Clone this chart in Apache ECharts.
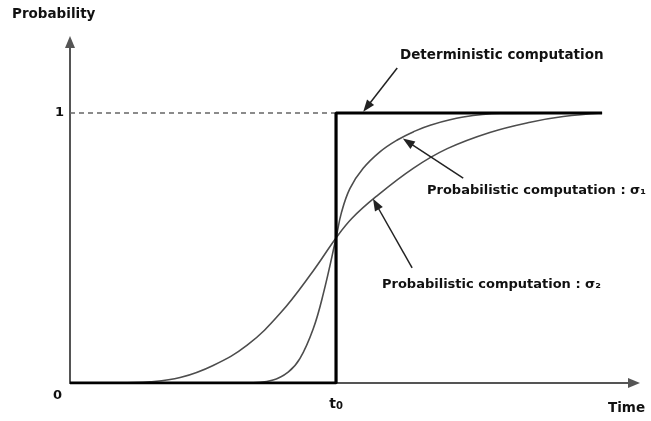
<!DOCTYPE html>
<html>
<head>
<meta charset="utf-8">
<script src="https://cdn.jsdelivr.net/npm/echarts@6/dist/echarts.min.js"></script>
<style>
  html, body { margin: 0; padding: 0; background: #fff; }
  #chart { width: 651px; height: 421px; }
</style>
</head>
<body>
<div id="chart"></div>
<script>
// Time is measured so that the switching instant t0 sits at 5.
const T0 = 5;
const T_END = 10;

// Ideal (deterministic) step: 0 until t0, then 1.
const deterministic = [[0, 0], [T0, 0], [T0, 1], [T_END, 1]];

// Reference level for probability 1 before t0.
const levelOne = [[0, 1], [T0, 1]];

// Narrow spread (sigma 1): steep S-curve around t0.
const sigma1 = [
  [3.3, 0], [3.8, 0.01], [4.1, 0.04], [4.32, 0.09], [4.57, 0.2],
  [4.76, 0.33], [5.0, 0.537], [5.1, 0.63], [5.26, 0.72], [5.51, 0.795],
  [5.83, 0.857], [6.15, 0.9], [6.45, 0.93], [6.77, 0.955], [7.39, 0.985],
  [8.1, 0.998], [T_END, 1.0]
];

// Wide spread (sigma 2): gentle S-curve around t0.
const sigma2 = [
  [0.9, 0], [1.5, 0.004], [2.07, 0.02], [2.69, 0.065], [3.33, 0.14],
  [3.95, 0.258], [4.57, 0.415], [5.0, 0.537], [5.3, 0.61], [5.75, 0.69],
  [6.45, 0.795], [7.09, 0.868], [7.89, 0.928], [8.65, 0.966],
  [9.27, 0.987], [T_END, 1.0]
];

// Callout arrows: [tail, tip] in data units.
const arrowDeterministic = [[6.15, 1.167], [5.58, 1.022]];
const arrowSigma1 = [[7.39, 0.759], [6.35, 0.893]];
const arrowSigma2 = [[6.43, 0.426], [5.75, 0.663]];

const FONT = 'DejaVu Sans';
const LABEL_FONT = 'bold 13.5px "DejaVu Sans"';
const SIGMA_FONT = 'bold 13px "DejaVu Sans"';
const INK = '#111';
const CURVE = '#4d4d4d';

function arrowLine(pair) {
  return [
    { coord: pair[0], symbol: 'none' },
    { coord: pair[1], symbol: 'triangle', symbolSize: [9, 12] }
  ];
}

const chart = echarts.init(document.getElementById('chart'), null, { renderer: 'canvas' });

chart.setOption({
  animation: false,
  backgroundColor: '#fff',
  grid: { left: 70, right: 17, top: 42, bottom: 38, containLabel: false },
  xAxis: {
    type: 'value',
    min: 0,
    max: 10.6,
    interval: T0,
    splitLine: { show: false },
    axisTick: { show: false },
    axisLine: {
      onZero: false,
      symbol: ['none', 'triangle'],
      symbolSize: [10, 12],
      lineStyle: { color: '#555', width: 2 }
    },
    axisLabel: {
      margin: 12,
      color: INK,
      formatter: v => (v === T0 ? '{t|t}{s|0}' : ''),
      rich: {
        t: { fontFamily: FONT, fontWeight: 'bold', fontSize: 14, color: INK, verticalAlign: 'bottom', lineHeight: 16 },
        s: { fontFamily: FONT, fontWeight: 'bold', fontSize: 10, color: INK, verticalAlign: 'bottom', lineHeight: 14 }
      }
    }
  },
  yAxis: {
    type: 'value',
    min: 0,
    max: 1.263,
    interval: 1,
    splitLine: { show: false },
    axisTick: { show: false },
    axisLine: {
      onZero: false,
      symbol: ['none', 'triangle'],
      symbolSize: [10, 12],
      lineStyle: { color: '#555', width: 2 }
    },
    axisLabel: {
      margin: 6,
      showMaxLabel: false,
      fontFamily: FONT,
      fontWeight: 'bold',
      fontSize: 13,
      color: INK,
      formatter: v => (v === 1 ? '1' : v === 0 ? '{z|0}' : ''),
      rich: {
        z: { fontFamily: FONT, fontWeight: 'bold', fontSize: 13, color: INK, padding: [25, 2, 0, 0] }
      }
    }
  },
  series: [
    {
      type: 'line',
      data: levelOne,
      symbol: 'none',
      lineStyle: { color: '#666', width: 1.5, type: [5, 4] },
      z: 1
    },
    {
      type: 'line',
      data: sigma2,
      smooth: 0.4,
      symbol: 'none',
      lineStyle: { color: CURVE, width: 1.6 },
      z: 2
    },
    {
      type: 'line',
      data: sigma1,
      smooth: 0.4,
      symbol: 'none',
      lineStyle: { color: CURVE, width: 1.6 },
      z: 2,
      markLine: {
        silent: true,
        label: { show: false },
        lineStyle: { color: '#222', width: 1.5, type: 'solid' },
        data: [arrowLine(arrowDeterministic), arrowLine(arrowSigma1), arrowLine(arrowSigma2)]
      }
    },
    {
      type: 'line',
      data: deterministic,
      symbol: 'none',
      lineStyle: { color: '#000', width: 3.2 },
      z: 3
    }
  ],
  graphic: [
    { type: 'text', left: 12, top: 7, style: { text: 'Probability', font: LABEL_FONT, fill: INK } },
    { type: 'text', left: 400, top: 48, style: { text: 'Deterministic computation', font: LABEL_FONT, fill: INK } },
    { type: 'text', left: 427, top: 184, style: { text: 'Probabilistic computation : σ₁', font: SIGMA_FONT, fill: INK } },
    { type: 'text', left: 382, top: 278, style: { text: 'Probabilistic computation : σ₂', font: SIGMA_FONT, fill: INK } },
    { type: 'text', left: 608, top: 401, style: { text: 'Time', font: LABEL_FONT, fill: INK } }
  ]
});
</script>
</body>
</html>
